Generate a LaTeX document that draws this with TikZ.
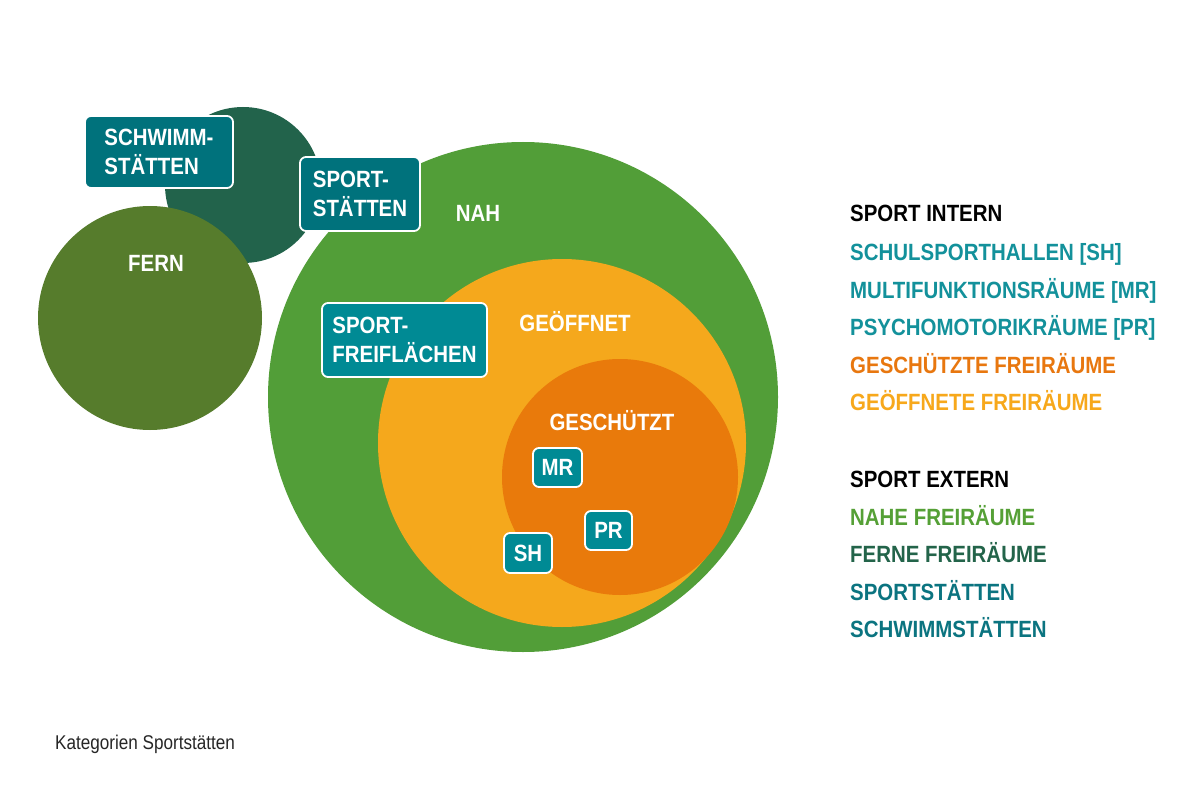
\documentclass[tikz,border=0pt]{standalone}
\usepackage{fontspec}
\setmainfont{Liberation Sans}[FakeStretch=0.87]
\newfontfamily\capfont{Liberation Sans}[FakeStretch=0.86]
\definecolor{fern}{RGB}{86,124,44}
\definecolor{schwimm}{RGB}{34,99,75}
\definecolor{nah}{RGB}{82,158,56}
\definecolor{offen}{RGB}{245,168,28}
\definecolor{schutz}{RGB}{233,122,11}
\definecolor{tealdark}{RGB}{0,114,124}
\definecolor{teal}{RGB}{0,138,148}
\definecolor{legteal}{RGB}{19,145,155}
\definecolor{legorange}{RGB}{232,119,15}
\definecolor{legyellow}{RGB}{247,168,27}
\definecolor{leggreen}{RGB}{85,160,54}
\definecolor{legdark}{RGB}{35,100,74}
\definecolor{legsport}{RGB}{11,116,128}
\begin{document}
\begin{tikzpicture}[x=1pt,y=-1pt,
  bigfont/.style={font=\bfseries\fontsize{23.5}{29.5}\selectfont},
  lbl/.style={bigfont, text=white, inner sep=0pt},
  tbox/.style={bigfont, draw=white, line width=1.8pt, rounded corners=6pt,
    fill=#1, text=white, align=left, inner sep=0pt},
  leg/.style={bigfont, anchor=base west, inner sep=0pt, text=#1}
]
\fill[white] (0,0) rectangle (1200,797);
\useasboundingbox (0,0) rectangle (1200,797);

% circles
\fill[schwimm] (243,185) circle[radius=78pt];
\fill[fern] (150,318) circle[radius=112pt];
\fill[nah] (523,397) circle[radius=255pt];
\fill[offen] (562,443) circle[radius=184pt];
\fill[schutz] (620,477) circle[radius=118pt];

% circle labels
\node[lbl] (fernl) at (156,263) {FERN};
\node[lbl] (nahl) at (478,213) {NAH};
\node[lbl] (offl) at (575,322) {GEÖFFNET};
\node[lbl] (schl) at (612,421) {GESCHÜTZT};

% boxes
\node[tbox=tealdark, minimum width=148pt, minimum height=72pt] (schwimmbox) at (159,152) {SCHWIMM-\\STÄTTEN};
\node[tbox=tealdark, minimum width=120pt, minimum height=74pt] (sportbox) at (360,194) {SPORT-\\STÄTTEN};
\node[tbox=teal, minimum width=165pt, minimum height=74pt] (freibox) at (404.5,340) {SPORT-\\FREIFLÄCHEN};
\node[tbox=teal, minimum width=49pt, minimum height=39pt] (mr) at (557.5,467.5) {MR};
\node[tbox=teal, minimum width=47pt, minimum height=39pt] (pr) at (608.5,530.5) {PR};
\node[tbox=teal, minimum width=48pt, minimum height=40pt] (sh) at (528,553) {SH};

% legend
\node[leg=black] (l1) at (850,222) {SPORT INTERN};
\node[leg=legteal] (l2) at (850,260) {SCHULSPORTHALLEN [SH]};
\node[leg=legteal] (l3) at (850,298) {MULTIFUNKTIONSRÄUME [MR]};
\node[leg=legteal] (l4) at (850,335) {PSYCHOMOTORIKRÄUME [PR]};
\node[leg=legorange] (l5) at (850,373) {GESCHÜTZTE FREIRÄUME};
\node[leg=legyellow] (l6) at (850,410) {GEÖFFNETE FREIRÄUME};
\node[leg=black] (e1) at (850,487) {SPORT EXTERN};
\node[leg=leggreen] (e2) at (850,525) {NAHE FREIRÄUME};
\node[leg=legdark] (e3) at (850,562) {FERNE FREIRÄUME};
\node[leg=legsport] (e4) at (850,600) {SPORTSTÄTTEN};
\node[leg=legsport] (e5) at (850,637) {SCHWIMMSTÄTTEN};

% caption
\node[anchor=base west, inner sep=0pt, text=black!85, font=\capfont\fontsize{19.9}{24}\selectfont] (cap) at (55,749) {Kategorien Sportstätten};
\end{tikzpicture}
\end{document}
